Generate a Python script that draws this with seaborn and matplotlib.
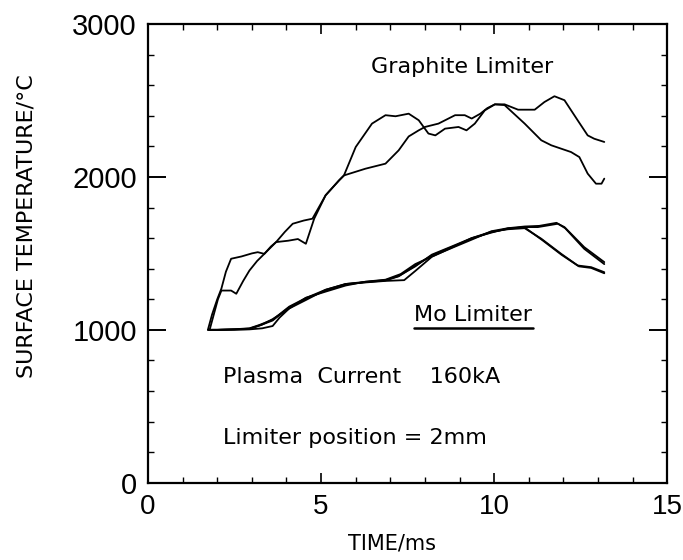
import numpy as np
import pandas as pd
import matplotlib
matplotlib.use("Agg")
import matplotlib.pyplot as plt
import seaborn as sns
from matplotlib.ticker import MultipleLocator

# ---------------- data ----------------
g1_x = [1.73, 1.85, 2.0, 2.12, 2.25, 2.4, 2.7, 3.0, 3.17, 3.36, 3.55, 3.7, 4.05, 4.33, 4.56,
        4.8, 5.13, 5.52, 5.66, 6.0, 6.47, 6.86, 7.15, 7.53, 7.82, 8.1, 8.3, 8.58, 8.97, 9.2,
        9.44, 9.73, 10.02, 10.3, 10.88, 11.36, 11.65, 12.22, 12.46, 12.7, 12.94, 13.1, 13.18]
g1_y = [1000, 1100, 1200, 1270, 1380, 1465, 1480, 1500, 1508, 1497, 1545, 1574, 1583, 1594, 1563,
        1727, 1880, 1978, 2010, 2196, 2349, 2404, 2397, 2414, 2371, 2284, 2272, 2316, 2327, 2305,
        2349, 2436, 2475, 2470, 2349, 2240, 2207, 2163, 2130, 2022, 1956, 1956, 1989]

g2_x = [1.78, 1.9, 2.02, 2.12, 2.4, 2.55, 2.75, 2.93, 3.15, 3.36, 3.7, 3.95, 4.18, 4.5, 4.75,
        5.13, 5.52, 5.66, 6.28, 6.86, 7.24, 7.53, 7.82, 8.0, 8.39, 8.87, 9.15, 9.35, 9.6, 9.8,
        10.02, 10.3, 10.69, 11.17, 11.45, 11.74, 12.03, 12.41, 12.7, 12.89, 13.18]
g2_y = [1000, 1100, 1200, 1257, 1257, 1236, 1320, 1388, 1450, 1497, 1574, 1640, 1694, 1715, 1727,
        1880, 1978, 2010, 2054, 2087, 2174, 2265, 2305, 2327, 2349, 2404, 2404, 2382, 2414, 2450,
        2475, 2475, 2440, 2440, 2490, 2528, 2502, 2371, 2272, 2250, 2229]

mo1_x = [1.73, 2.0, 2.5, 2.93, 3.22, 3.6, 4.08, 4.56, 5.13, 5.71, 6.28, 6.86, 7.24, 7.72, 8.2,
         8.77, 9.35, 9.92, 10.4, 10.88, 11.26, 11.84, 12.03, 12.6, 13.18]
mo1_y = [1000, 1000, 1003, 1008, 1028, 1061, 1148, 1203, 1257, 1297, 1312, 1323, 1350, 1420, 1487,
         1541, 1596, 1639, 1661, 1672, 1672, 1694, 1672, 1541, 1443]

mo2_x = [1.76, 2.0, 2.5, 2.93, 3.3, 3.6, 4.08, 4.56, 5.13, 5.71, 6.28, 6.86, 7.3, 7.72, 8.2,
         8.77, 9.35, 9.92, 10.4, 10.88, 11.3, 11.8, 12.05, 12.6, 13.18]
mo2_y = [1000, 1000, 1002, 1005, 1035, 1070, 1140, 1210, 1250, 1290, 1315, 1328, 1365, 1430, 1480,
         1535, 1590, 1645, 1665, 1676, 1680, 1700, 1665, 1530, 1430]

mo3_x = [1.75, 2.0, 2.5, 2.93, 3.3, 3.6, 3.8, 4.08, 4.56, 5.13, 5.71, 6.28, 6.86, 7.4, 7.72,
         8.2, 8.77, 9.35, 9.92, 10.4, 10.88, 11.36, 11.93, 12.41, 12.8, 13.18]
mo3_y = [1000, 1000, 1001, 1003, 1010, 1025, 1080, 1140, 1195, 1262, 1300, 1310, 1320, 1325, 1385,
         1478, 1538, 1600, 1642, 1658, 1665, 1596, 1498, 1421, 1410, 1377]

mo4_x = [1.78, 2.0, 2.5, 2.93, 3.22, 3.6, 4.08, 4.56, 5.13, 5.71, 6.28, 6.86, 7.24, 7.72, 8.2,
         8.77, 9.35, 9.92, 10.4, 10.88, 11.4, 11.95, 12.45, 12.8, 13.18]
mo4_y = [1000, 1000, 1004, 1010, 1032, 1066, 1152, 1208, 1262, 1300, 1314, 1325, 1352, 1415, 1492,
         1545, 1600, 1636, 1664, 1670, 1585, 1490, 1415, 1405, 1370]

x_ticks = [0, 5, 10, 15]
y_ticks = [0, 1000, 2000, 3000]

# ---------------- plotting ----------------
sns.set_style("ticks")
plt.rcParams['font.family'] = ['Liberation Sans', 'DejaVu Sans']
plt.rcParams['text.color'] = 'black'
plt.rcParams['axes.labelcolor'] = 'black'

fig = plt.figure(figsize=(6.83, 5.60), dpi=100)
ax = fig.add_axes([0.2167, 0.138, 0.977 - 0.2167, 0.957 - 0.138])

curves = [(g1_x, g1_y), (g2_x, g2_y), (mo1_x, mo1_y), (mo2_x, mo2_y), (mo3_x, mo3_y), (mo4_x, mo4_y)]
for cx, cy in curves:
    df = pd.DataFrame({"t": cx, "T": cy})
    sns.lineplot(data=df, x="t", y="T", ax=ax, color="black", linewidth=1.3, sort=False,
                 estimator=None)

ax.set_xlim(0, 15)
ax.set_ylim(0, 3000)
ax.set_xticks(x_ticks)
ax.set_yticks(y_ticks)
ax.set_xticklabels([str(v) for v in x_ticks])
ax.set_yticklabels([str(v) for v in y_ticks])
ax.xaxis.set_minor_locator(MultipleLocator(1))
ax.yaxis.set_minor_locator(MultipleLocator(200))

for s in ax.spines.values():
    s.set_linewidth(1.6)
    s.set_color("black")

ax.tick_params(axis='both', which='both', direction='in', top=True, right=True, color='black')
ax.tick_params(axis='y', which='major', length=13, width=1.4, labelsize=21, pad=8)
ax.tick_params(axis='x', which='major', length=7, width=1.2, labelsize=20, pad=8)
ax.tick_params(axis='both', which='minor', length=4, width=1.0)
ax.tick_params(axis='both', which='major', labelcolor='black')

dv = ['DejaVu Sans']
ax.set_xlabel("TIME/ms", fontsize=15, labelpad=10, family=dv, x=0.47)
ax.set_ylabel("SURFACE TEMPERATURE/°C", fontsize=16, labelpad=26, family=dv, y=0.56)

ax.text(9.08, 2720, "Graphite Limiter", ha='center', va='center', fontsize=16, family=dv)
ax.text(7.67, 1097, "Mo Limiter", ha='left', va='center', fontsize=16, family=dv)
ax.plot([7.67, 11.12], [1012, 1012], color='black', linewidth=1.8)
ax.text(2.16, 690, "Plasma  Current    160kA", ha='left', va='center', fontsize=16, family=dv)
ax.text(2.16, 292, "Limiter position = 2mm", ha='left', va='center', fontsize=16, family=dv)

fig.savefig("out.png", dpi=100)
